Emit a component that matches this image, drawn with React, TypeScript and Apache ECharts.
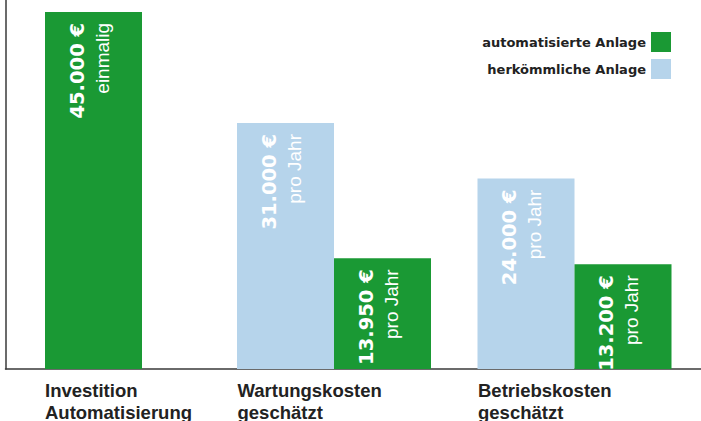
import React, { useEffect, useRef } from "react";
import * as echarts from "echarts";

const categories = [
  "Investition\nAutomatisierung",
  "Wartungskosten\ngeschätzt",
  "Betriebskosten\ngeschätzt",
];
const investition = [45000, null, null];
const herkoemmlich = [null, 31000, 24000];
const automatisiert = [null, 13950, 13200];
const notes = ["einmalig", "pro Jahr", "pro Jahr"];
const legendNames = ["automatisierte Anlage", "herkömmliche Anlage"];

const GREEN = "#1a9934";
const BLUE = "#b6d4eb";

const fmt = (v: number) =>
  String(v).replace(/\B(?=(\d{3})+(?!\d))/g, ".") + " €";

const barLabel = {
  show: true,
  position: "insideTop" as const,
  distance: 11,
  rotate: 90,
  align: "right" as const,
  verticalAlign: "middle" as const,
  offset: [0, -4],
  formatter: (p: any) => `{b|${fmt(p.value)}}\n{r|${notes[p.dataIndex]}}`,
  rich: {
    b: {
      fontFamily: "DejaVu Sans",
      fontWeight: "bold",
      fontSize: 19.5,
      lineHeight: 25,
      color: "#ffffff",
    },
    r: {
      fontFamily: "Liberation Sans",
      fontSize: 19,
      lineHeight: 25,
      color: "#ffffff",
    },
  },
};

const axisLabelStyle = {
  fontFamily: "Liberation Sans",
  fontWeight: "bold" as const,
  fontSize: 18.5,
  lineHeight: 22,
  color: "#222222",
  align: "left" as const,
  verticalAlign: "top" as const,
  margin: 10,
  interval: 0,
};

export default function App() {
  const ref = useRef<HTMLDivElement>(null);
  useEffect(() => {
    if (!ref.current) return;
    const chart = echarts.init(ref.current, null, { renderer: "svg" });
    chart.setOption({
      animation: false,
      legend: {
        data: legendNames,
        orient: "vertical",
        right: 30,
        top: 32,
        padding: 0,
        itemWidth: 20,
        itemHeight: 20,
        itemGap: 7,
        align: "right",
        icon: "rect",
        selectedMode: false,
        textStyle: {
          fontFamily: "DejaVu Sans",
          fontWeight: "bold",
          fontSize: 13,
          color: "#222222",
        },
      },
      grid: [
        { left: -26.75, right: 6.25, top: 0, bottom: 52, outerBoundsMode: "none", containLabel: false },
        { left: 5.5, right: 0, top: 0, bottom: 52, outerBoundsMode: "none" },
      ],
      xAxis: [
        {
          type: "category",
          gridIndex: 0,
          position: "bottom",
          data: categories,
          axisLine: { show: false },
          axisTick: { show: false },
          axisLabel: {
            ...axisLabelStyle,
            padding: [0, 0, 0, -96.5],
            formatter: (v: string, i: number) => (i === 0 ? "" : v),
          },
        },
        {
          type: "category",
          gridIndex: 0,
          position: "bottom",
          data: categories,
          axisLine: { show: false },
          axisTick: { show: false },
          axisLabel: {
            ...axisLabelStyle,
            padding: [0, 0, 0, -48.5],
            formatter: (v: string, i: number) => (i === 0 ? v : ""),
          },
        },
        {
          type: "value",
          gridIndex: 1,
          min: 0,
          max: 1,
          axisLine: { show: true, lineStyle: { color: "#3a3a3a", width: 1.5 } },
          axisTick: { show: false },
          axisLabel: { show: false },
          splitLine: { show: false },
        },
      ],
      yAxis: [
        {
          type: "value",
          gridIndex: 0,
          min: 0,
          max: 46500,
          show: false,
          splitLine: { show: false },
        },
        {
          type: "value",
          gridIndex: 1,
          min: 0,
          max: 1,
          axisLine: { show: true, lineStyle: { color: "#3a3a3a", width: 1.5 } },
          axisTick: { show: false },
          axisLabel: { show: false },
          splitLine: { show: false },
        },
      ],
      series: [
        {
          name: "herkömmliche Anlage",
          type: "bar",
          xAxisIndex: 0,
          yAxisIndex: 0,
          barWidth: 97,
          barGap: 0,
          itemStyle: { color: BLUE },
          label: barLabel,
          data: herkoemmlich,
        },
        {
          name: "automatisierte Anlage",
          type: "bar",
          xAxisIndex: 0,
          yAxisIndex: 0,
          barWidth: 97,
          barGap: 0,
          itemStyle: { color: GREEN },
          label: barLabel,
          data: automatisiert,
        },
        {
          name: "automatisierte Anlage",
          type: "bar",
          xAxisIndex: 1,
          yAxisIndex: 0,
          barWidth: 97,
          itemStyle: { color: GREEN },
          label: barLabel,
          data: investition,
        },
      ],
    });
    return () => chart.dispose();
  }, []);
  return (
    <div
      ref={ref}
      style={{ position: "fixed", left: 0, top: 0, width: 701, height: 421, background: "#fff" }}
    />
  );
}
